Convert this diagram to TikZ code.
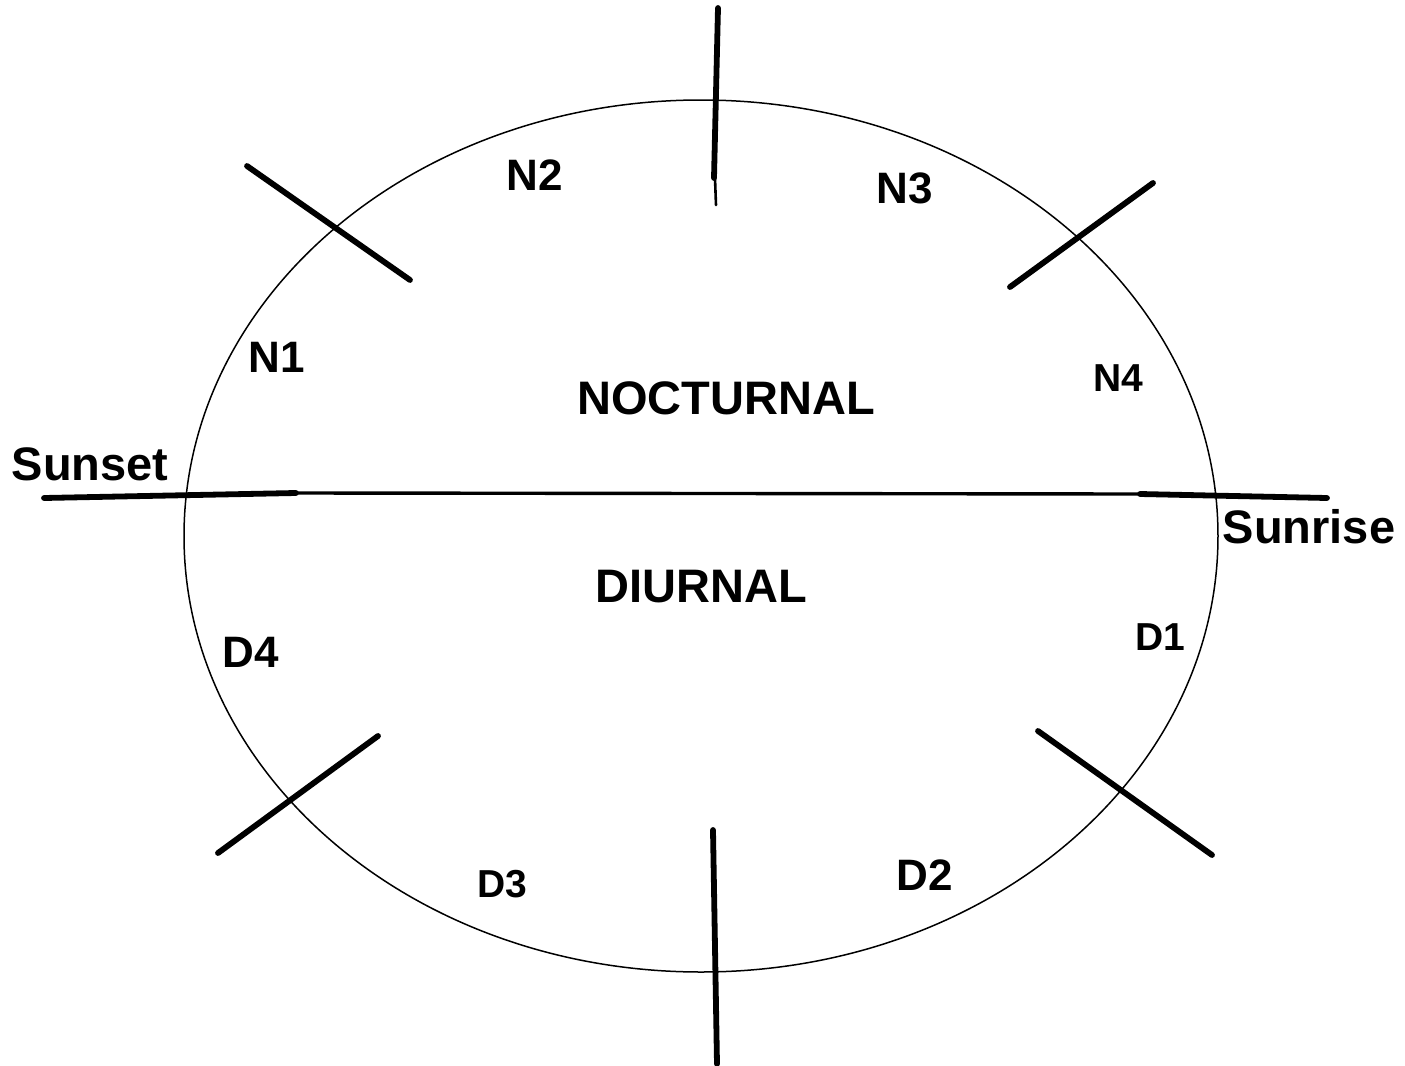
\documentclass[tikz,border=0pt]{standalone}
\usepackage{fontspec}
\setmainfont{Liberation Sans}
\usepackage{tikz}
\usetikzlibrary{positioning}

\begin{document}
\begin{tikzpicture}[x=0.5pt, y=-0.5pt, line cap=round,
  big/.style={font=\bfseries\fontsize{23.5}{28}\selectfont, inner sep=0pt, anchor=base},
  mid/.style={font=\bfseries\fontsize{22}{26}\selectfont, inner sep=0pt, anchor=base},
  small/.style={font=\bfseries\fontsize{19.5}{23}\selectfont, inner sep=0pt, anchor=base},
  tick/.style={line width=2.9pt}]
  \useasboundingbox (0,0) rectangle (1405,1066);
  % the day
  \draw[line width=0.75pt] (701,536) ellipse [x radius=517, y radius=436];
  \coordinate (setend) at (296,493);
  \coordinate (riseend) at (1140,494);
  \draw[line width=1.7pt] (setend) -- (riseend);
  \draw[tick] (44,498) -- (setend);
  \draw[tick] (riseend) -- (1327,498);
  % quarters
  \draw[tick] (718,8) -- (714,178);
  \draw[line width=1.3pt] (715,178) -- (716,205);
  \draw[tick] (713,830) -- (717,1064);
  \draw[tick] (247,166) -- (410,280);
  \draw[tick] (1153,183) -- (1010,287);
  \draw[tick] (1038,731) -- (1212,855);
  \draw[tick] (378,736) -- (218,853);
  % labels
  \node[big] (set) at (90,480) {Sunset};
  \node[big] (rise) at (1309,543) {Sunrise};
  \node[big] (noct) at (726,414) {NOCTURNAL};
  \node[big] (diur) at (701,602) {DIURNAL};
  \node[mid] (n1) at (277,372) {N1};
  \node[mid] (n2) at (535,190) {N2};
  \node[mid] (n3) at (905,203) {N3};
  \node[small] (n4) at (1118,391) {N4};
  \node[small] (d1) at (1160,650) {D1};
  \node[mid] (d2) at (925,890) {D2};
  \node[small] (d3) at (502,897) {D3};
  \node[mid] (d4) at (251,667) {D4};
\end{tikzpicture}
\end{document}
